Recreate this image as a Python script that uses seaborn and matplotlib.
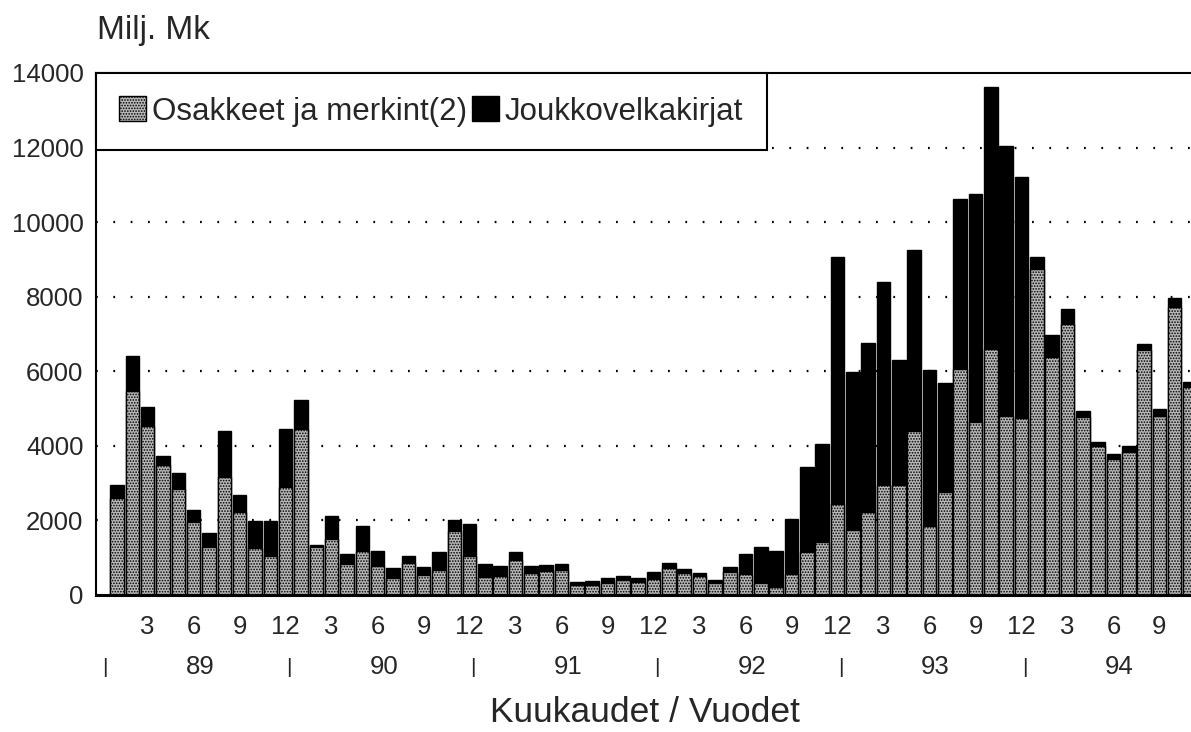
import pandas as pd
import seaborn as sns
import matplotlib.pyplot as plt
import matplotlib.transforms as mtransforms
from matplotlib.patches import Patch

# Kuukausittaiset liikkeeseenlaskut, milj. mk (tammikuu 1989 - marraskuu 1994)
osakkeet = [2600, 5460, 4520, 3500, 2840, 1960, 1300, 3170, 2220, 1250, 1040, 2900,
            4460, 1290, 1500, 830, 1180, 780, 450, 860, 540, 670, 1720, 1050,
            480, 510, 940, 580, 655, 670, 270, 270, 330, 400, 350, 440,
            720, 595, 510, 320, 608, 557, 324, 223, 557, 1165, 1418, 2451,
            1742, 2228, 2957, 2960, 4400, 1840, 2760, 6050, 4640, 6600, 4810, 4760,
            8730, 6380, 7260, 4780, 4000, 3650, 3830, 6580, 4810, 7720, 5590]
joukkovelkakirjat = [360, 950, 520, 220, 420, 330, 350, 1220, 450, 740, 940, 1540,
                     770, 60, 630, 270, 680, 410, 270, 190, 220, 480, 300, 860,
                     355, 270, 200, 185, 145, 165, 90, 115, 120, 120, 100, 165,
                     135, 110, 85, 80, 150, 555, 960, 970, 1490, 2280, 2630, 6610,
                     4230, 4540, 5430, 3340, 4860, 4200, 2930, 4560, 6110, 7020, 7220, 6460,
                     330, 580, 420, 160, 100, 120, 170, 150, 170, 250, 130]
vuodet = ['89', '90', '91', '92', '93', '94']

df = pd.DataFrame({'kk': range(len(osakkeet)),
                   'osakkeet': osakkeet,
                   'jvk': joukkovelkakirjat})
df['yhteensa'] = df['osakkeet'] + df['jvk']

sns.set_theme(style='white')
plt.rcParams['font.family'] = ['Liberation Sans', 'DejaVu Sans']
plt.rcParams['hatch.linewidth'] = 0.8
plt.rcParams['hatch.color'] = 'black'

harmaa = '#b8b8b8'

fig = plt.figure(figsize=(11.91, 7.32), dpi=100)
ax = fig.add_axes([96 / 1191, 1 - 595 / 732, 1 - 96 / 1191, (595 - 73) / 732])

# Koko pylväs mustana, osakkeet harmaana päälle -> pinottu kuva
sns.barplot(data=df, x='kk', y='yhteensa', color='black', width=0.88,
            errorbar=None, saturation=1, edgecolor='black', linewidth=1, ax=ax)
sns.barplot(data=df, x='kk', y='osakkeet', color=harmaa, width=0.88,
            errorbar=None, saturation=1, edgecolor='black', linewidth=1,
            hatch='......', ax=ax)

ax.set_xlim(-1.37, 70.06)
ax.set_ylim(0, 14000)
ax.set_yticks(range(0, 14001, 2000))
ax.set_yticklabels([str(v) for v in range(0, 14001, 2000)], fontsize=18.5)

ticks = list(range(-1, len(osakkeet)))
labels = []
for i in ticks:
    m = i % 12 + 1
    labels.append(str(m) if (i >= 0 and m % 3 == 0) else '')
ax.set_xticks(ticks)
ax.set_xticklabels(labels, fontsize=18.5)
ax.set_xlabel('')
ax.set_ylabel('')

ax.tick_params(axis='x', direction='out', length=6.5, width=1.3, pad=8, color='black')
ax.tick_params(axis='y', direction='out', length=4, width=1.3, pad=5, color='black')

# pisteviivat
for v in range(2000, 13000, 2000):
    ax.axhline(v, color='black', linewidth=1.6, linestyle=(0, (0.8, 7)), zorder=0)
ax.set_axisbelow(True)

for side in ['left', 'top', 'bottom']:
    ax.spines[side].set_visible(True)
    ax.spines[side].set_color('black')
ax.spines['left'].set_linewidth(1.5)
ax.spines['top'].set_linewidth(1.5)
ax.spines['bottom'].set_linewidth(2.2)
ax.spines['right'].set_visible(False)

# vuosirivi
trans = mtransforms.blended_transform_factory(ax.transData, ax.transAxes)
for k, v in enumerate(vuodet):
    ax.text(12 * k + 5.4, -0.138, v, transform=trans, ha='center', va='center', fontsize=18.5)
    ax.text(12 * k - 0.8, -0.138, '|', transform=trans, ha='center', va='center', fontsize=15)

fig.text(645 / 1191, 1 - 713 / 732, 'Kuukaudet / Vuodet', ha='center', va='center', fontsize=25.5)
fig.text(97 / 1191, 1 - 30 / 732, 'Milj. Mk', ha='left', va='center', fontsize=24)

handles = [Patch(facecolor=harmaa, edgecolor='black', hatch='......', linewidth=1),
           Patch(facecolor='black', edgecolor='black', linewidth=1)]
leg = ax.legend(handles, ['Osakkeet ja merkint(2)', 'Joukkovelkakirjat'],
                loc='upper left', bbox_to_anchor=(0, 1), borderaxespad=0, ncol=2,
                fontsize=22.5, frameon=True, fancybox=False, framealpha=1,
                handlelength=0.85, handleheight=0.85, handletextpad=0.2,
                columnspacing=0.15, borderpad=0.75)
leg.get_frame().set_edgecolor('black')
leg.get_frame().set_linewidth(1.5)

plt.savefig('out.png', dpi=100)
